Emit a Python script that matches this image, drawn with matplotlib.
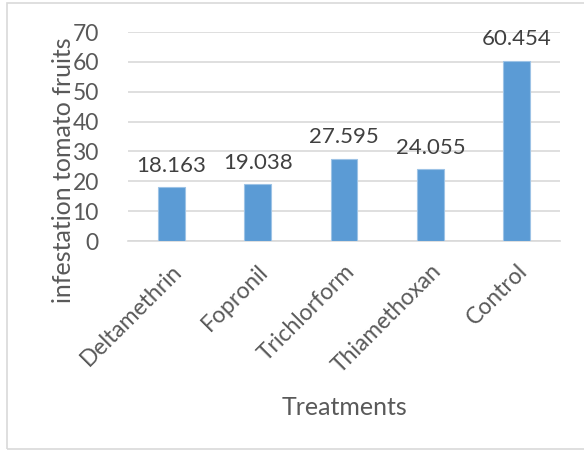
import matplotlib
matplotlib.use('Agg')
import matplotlib.pyplot as plt
from matplotlib.patches import Rectangle

# 処理区ごとのトマト果実の被害率
treatments = ["Deltamethrin", "Fopronil", "Trichlorform", "Thiamethoxan", "Control"]
infestation = [18.163, 19.038, 27.595, 24.055, 60.454]
yticks = [0, 10, 20, 30, 40, 50, 60, 70]

plt.rcParams['font.family'] = ['Lato', 'DejaVu Sans']
txt_color = "#595959"

fig = plt.figure(figsize=(5.84, 4.51), dpi=100)
ax = fig.add_axes([128 / 584, 1 - 241 / 451, 432 / 584, 209 / 451])

x = list(range(len(treatments)))
ax.bar(x, infestation, width=0.31, color="#5B9BD5", edgecolor="#9DC3E6", linewidth=0.8, zorder=3)
for xi, v in zip(x, infestation):
    ax.annotate(f"{v:.3f}", (xi, v), xytext=(0, 8), textcoords="offset points",
                ha="center", va="bottom", fontsize=16, color="#404040")

ax.set_xlim(-0.5, len(treatments) - 0.5)
ax.set_ylim(0, 70)
ax.set_yticks(yticks)
ax.yaxis.grid(True, color="#D9D9D9", linewidth=1.2, zorder=0)
ax.set_xticks(x)
ax.set_xticklabels(treatments, rotation=45, ha="right", rotation_mode="anchor",
                   fontsize=16.5, color=txt_color)
ax.tick_params(axis="y", labelsize=16.5, labelcolor=txt_color, length=0, pad=21)
ax.tick_params(axis="x", length=0, pad=14)
for s in ["top", "right", "left"]:
    ax.spines[s].set_visible(False)
ax.spines["bottom"].set_color("#D9D9D9")
ax.spines["bottom"].set_linewidth(1.2)

ax.set_ylabel("infestation tomato fruits", fontsize=18, color=txt_color)
ax.yaxis.set_label_coords(-0.123, 0.34)
ax.set_xlabel("Treatments", fontsize=18, color=txt_color)
ax.xaxis.set_label_coords(0.5, -0.74)

# 上に切れたタイトルの一部
fig.text(208 / 584, 1 + 5 / 451, "g", fontsize=14, color="black", ha="center", va="baseline")

# 外枠
fig.patches.append(Rectangle((7 / 584, 2 / 451), 600 / 584, 446 / 451, transform=fig.transFigure,
                             fill=False, edgecolor="#D9D9D9", linewidth=1.2))

fig.savefig("out.png", dpi=100)
